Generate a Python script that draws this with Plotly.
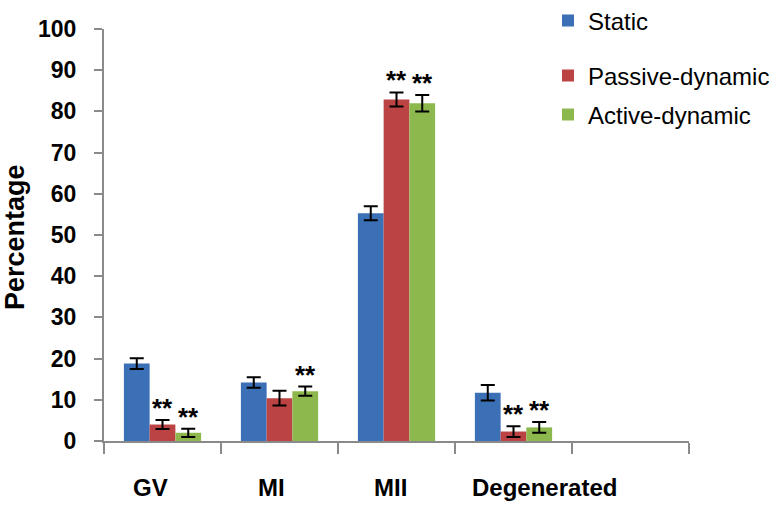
import plotly.graph_objects as go

categories = ["GV", "MI", "MII", "Degenerated"]
axis_slots = ["GV", "MI", "MII", "Degenerated", " "]
series_names = ["Static", "Passive-dynamic", "Active-dynamic"]
static_vals = [18.8, 14.2, 55.3, 11.7]
static_err = [1.3, 1.3, 1.7, 1.9]
passive_vals = [4.0, 10.4, 82.9, 2.3]
passive_err = [1.1, 1.8, 1.7, 1.3]
active_vals = [2.0, 12.1, 82.0, 3.3]
active_err = [1.0, 1.1, 2.0, 1.3]
# significance marks ("**") per series per category
passive_sig = ["**", "", "**", "**"]
active_sig = ["**", "**", "**", "**"]
y_ticks = [0, 10, 20, 30, 40, 50, 60, 70, 80, 90, 100]

colors = ["#3b6fb6", "#bb4343", "#8db84e"]
FONT = "Liberation Sans, Arial, sans-serif"

W, H = 777, 514
ml, mr, mt, mb = 104, 88, 29, 73
pw, ph = W - ml - mr, H - mt - mb

fig = go.Figure()
all_vals = [static_vals, passive_vals, active_vals]
all_errs = [static_err, passive_err, active_err]
legends = ["legend", "legend2", "legend3"]
for name, vals, errs, col, lg in zip(series_names, all_vals, all_errs, colors, legends):
    fig.add_trace(go.Bar(
        x=categories, y=vals, name=name, marker=dict(color=col, line=dict(width=0)),
        error_y=dict(type="data", array=errs, visible=True, color="black", thickness=2, width=7),
        legend=lg,
    ))

bar_px = 26
annotations = []
for j, (sig, vals, errs) in enumerate([(passive_sig, passive_vals, passive_err),
                                       (active_sig, active_vals, active_err)]):
    shift = bar_px * j  # passive centre bar, active right bar
    for c, s, v, e in zip(categories, sig, vals, errs):
        if s:
            annotations.append(dict(x=c, y=v + e, xref="x", yref="y", text="<b>%s</b>" % s,
                                    showarrow=False, xshift=shift, yanchor="bottom", yshift=-5,
                                    font=dict(family=FONT, size=26, color="black")))

label_shift = [-12, -8, -6, 31]
for c, sh in zip(categories, label_shift):
    annotations.append(dict(x=c, y=0, xref="x", yref="y", text="<b>%s</b>" % c, showarrow=False,
                            xshift=sh, yshift=-46, yanchor="middle",
                            font=dict(family=FONT, size=24, color="black")))

annotations.append(dict(x=(15 - ml) / pw, y=(H - mb - 237) / ph, xref="paper", yref="paper",
                        xanchor="center", yanchor="middle",
                        text="<b>Percentage</b>", showarrow=False, textangle=-90,
                        font=dict(family=FONT, size=27, color="black")))

leg_font = dict(family=FONT, size=24, color="black")
leg_x = 548 / W
leg_common = dict(xref="container", yref="container", xanchor="left", yanchor="middle",
                  font=leg_font, bgcolor="rgba(0,0,0,0)", borderwidth=0)

fig.update_layout(
    width=W, height=H,
    margin=dict(l=ml, r=mr, t=mt, b=mb, autoexpand=False),
    paper_bgcolor="white", plot_bgcolor="white",
    barmode="group", bargap=0.34, bargroupgap=0,
    font=dict(family=FONT, color="black"),
    xaxis=dict(type="category", categoryorder="array", categoryarray=axis_slots,
               range=[-0.5, 4.5], tickson="boundaries", ticks="outside", ticklen=11,
               tickwidth=2, tickcolor="#8a8a8a", showline=True, linecolor="#8a8a8a",
               linewidth=2, showgrid=False, showticklabels=False, zeroline=False,
               automargin=False),
    yaxis=dict(range=[0, 100], tickvals=y_ticks, ticks="outside", ticklen=8, tickwidth=2,
               tickcolor="#8a8a8a", showline=True, linecolor="#8a8a8a", linewidth=2,
               showgrid=False, zeroline=False, ticklabelstandoff=13, automargin=False,
               tickfont=dict(family=FONT, size=23, color="black", weight="bold")),
    legend=dict(x=leg_x, y=1 - 21 / H, **leg_common),
    legend2=dict(x=leg_x, y=1 - 76 / H, **leg_common),
    legend3=dict(x=leg_x, y=1 - 115 / H, **leg_common),
    annotations=annotations,
    showlegend=True,
)

fig.write_html("out.html", config={"displayModeBar": False},
               post_script="document.body.style.margin='0';")
